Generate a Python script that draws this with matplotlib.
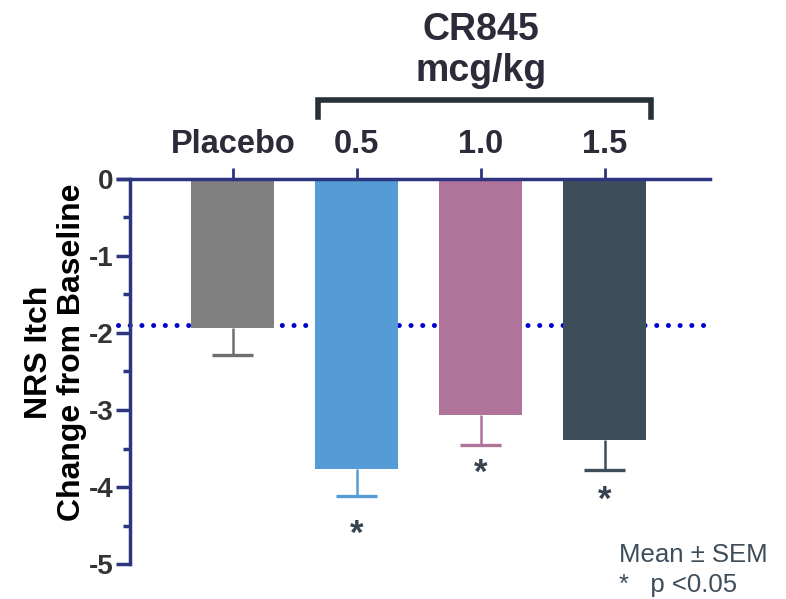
import matplotlib.pyplot as plt
from matplotlib.ticker import MultipleLocator

plt.rcParams['font.family'] = ['Liberation Sans', 'DejaVu Sans']

# data
groups = ["Placebo", "0.5", "1.0", "1.5"]
means = [-1.93, -3.76, -3.06, -3.39]
sem = [0.36, 0.36, 0.40, 0.39]
colors = ["#808080", "#559bd6", "#b07399", "#3e4d5a"]
err_colors = ["#6e6e6e", "#559bd6", "#b07399", "#3e4d5a"]
placebo_ref = -1.90
star_y = [None, -4.62, -3.82, -4.17]

axis_col = "#2e3580"
text_col = "#2b2b3a"

fig = plt.figure(figsize=(7.86, 5.99), dpi=100)
ax = fig.add_axes([0.1654, 0.0584, 0.7379, 0.6428])

x = list(range(len(groups)))

# dotted reference line at placebo mean (behind bars)
ax.plot([-0.93, 3.82], [placebo_ref, placebo_ref], linestyle=(0, (0.01, 2.33)),
        linewidth=3.6, dash_capstyle='round', color="#0000cc", zorder=1, clip_on=False)

ax.bar(x, means, width=0.67, color=colors, zorder=5)

# lower-only error bars
cap_half = 0.165
for i in x:
    low = means[i] - sem[i]
    ax.vlines(i, low, means[i], color=err_colors[i], linewidth=1.8, zorder=6)
    ax.hlines(low, i - cap_half, i + cap_half, color=err_colors[i], linewidth=2.4, zorder=6)
    if star_y[i] is not None:
        ax.text(i, star_y[i], "*", ha='center', va='center', fontsize=25,
                fontweight='bold', color="#37444f")

ax.set_xlim(-0.83, 3.85)
ax.set_ylim(-5, 0)

# x axis line along y=0 at top
ax.plot([-0.93, 3.85], [0, 0], color=axis_col, linewidth=2.5, zorder=7, clip_on=False)
for sp in ['top', 'right', 'bottom']:
    ax.spines[sp].set_visible(False)
ax.spines['left'].set_color(axis_col)
ax.spines['left'].set_linewidth(2.5)

ax.xaxis.tick_top()
ax.set_xticks(x)
ax.set_xticklabels(groups, fontsize=23.5, fontweight='bold', color=text_col)
ax.tick_params(axis='x', direction='out', length=8, width=2, color=axis_col, pad=6)

ax.yaxis.set_minor_locator(MultipleLocator(0.5))
ax.set_yticks(range(-5, 1))
ax.set_yticklabels([str(v) for v in range(-5, 1)], fontsize=20, fontweight='bold', color="#333333")
ax.tick_params(axis='y', which='major', length=10, width=2.5, color=axis_col, pad=2)
ax.tick_params(axis='y', which='minor', length=5, width=2.5, color=axis_col)

ax.set_ylabel("NRS Itch\nChange from Baseline", fontsize=23, fontweight='bold',
              color="black", linespacing=1.12)
ax.yaxis.set_label_coords(-0.074, 0.55)

# bracket over dose groups
bracket_col = "#263238"
bx0, bx1 = 0.69, 3.37
ax.plot([bx0, bx0, bx1, bx1], [0.80, 1.03, 1.03, 0.80], color=bracket_col,
        linewidth=4, solid_joinstyle='miter', clip_on=False)
ax.text(2.0, 1.67, "CR845\nmcg/kg", ha='center', va='center', fontsize=27,
        fontweight='bold', color=text_col, linespacing=1.2)

fig.text(0.788, 0.074, "Mean \u00b1 SEM", fontsize=18.5, color="#3e4d5a", va='center')
fig.text(0.788, 0.023, "*   p <0.05", fontsize=18.5, color="#3e4d5a", va='center')

fig.savefig("out.png", dpi=100)
